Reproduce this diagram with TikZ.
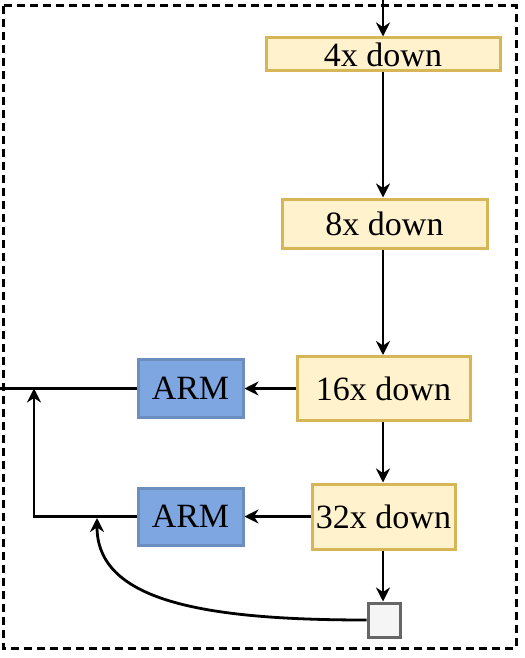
\documentclass[tikz,border=0pt]{standalone}
\usepackage{fontspec}
\setmainfont{Liberation Serif}
\usetikzlibrary{arrows.meta}
\definecolor{yfill}{HTML}{FFF2CC}
\definecolor{yline}{HTML}{D6B656}
\definecolor{bfill}{HTML}{7EA6E0}
\definecolor{bline}{HTML}{6C8EBF}
\definecolor{gfill}{HTML}{F5F5F5}
\definecolor{gline}{HTML}{666666}
\tikzset{
  downbox/.style={draw=yline, fill=yfill, line width=3bp, inner sep=0pt, font=\fontsize{34bp}{36bp}\selectfont},
  armbox/.style={draw=bline, fill=bfill, line width=3bp, inner sep=0pt, minimum width=105bp, font=\fontsize{34bp}{36bp}\selectfont},
  sqbox/.style={draw=gline, fill=gfill, line width=3bp, inner sep=0pt, minimum width=32bp, minimum height=34bp},
  conn/.style={line width=2.8bp, draw=black},
  arr/.style={conn, -{Stealth[length=14bp, width=14bp, inset=4.5bp]}},
  frame/.style={line width=3bp, dash pattern=on 8bp off 5bp}
}
\begin{document}
\begin{tikzpicture}[x=1bp, y=-1bp]
\useasboundingbox (0,0) rectangle (525,658);
\draw[frame] (3,6) rectangle (516,648);
\node[downbox, minimum width=234bp, minimum height=33bp] (d4) at (383,54.5) {4x down};
\node[downbox, minimum width=205bp, minimum height=49bp] (d8) at (384.5,223.5) {8x down};
\node[downbox, minimum width=173bp, minimum height=64bp] (d16) at (383.5,388.5) {16x down};
\node[downbox, minimum width=143bp, minimum height=65bp] (d32) at (383.5,516.5) {32x down};
\node[armbox, minimum height=58bp] (a1) at (190.5,388.5) {ARM};
\node[armbox, minimum height=57bp] (a2) at (190.5,516.5) {ARM};
\node[sqbox] (sq) at (384,620) {};
\coordinate (in) at (383,0);
\coordinate (out) at (0,388.5);
\coordinate (corner) at (34,516.5);
\coordinate (join) at (34,388.5);
\coordinate (merge) at (97,518);
\draw[arr] (in) -- (in |- d4.north);
\draw[arr] (d4.south -| 383,0) -- (d8.north -| 383,0);
\draw[arr] (d8.south -| 383,0) -- (d16.north -| 383,0);
\draw[arr] (d16.south -| 383,0) -- (d32.north -| 383,0);
\draw[arr] (d32.south -| 383,0) -- (sq.north -| 383,0);
\draw[arr] (d16.west) -- (a1.east);
\draw[arr] (d32.west) -- (a2.east);
\draw[conn] (a1.west) -- (out);
\draw[arr] (a2.west) -- (corner) -- (join);
\draw[arr] (sq.west) .. controls (200,620) and (97,600) .. (merge);
\end{tikzpicture}
\end{document}
